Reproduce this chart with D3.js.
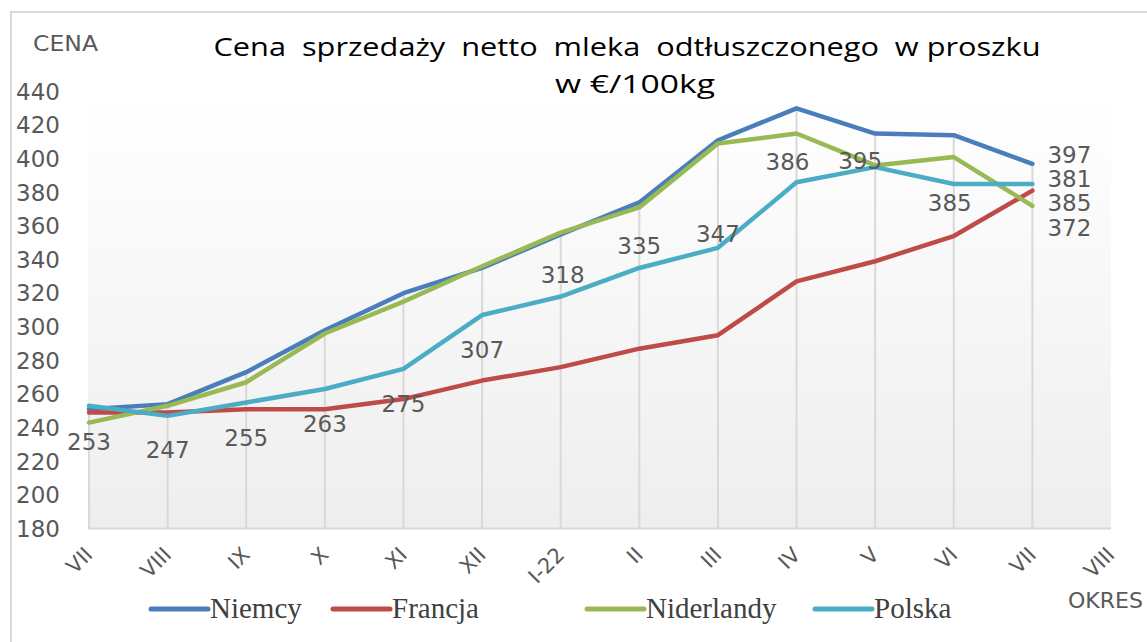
<!DOCTYPE html>
<html>
<head>
<meta charset="utf-8">
<script src="https://cdn.jsdelivr.net/npm/d3@7"></script>
<style>
  html, body { margin: 0; padding: 0; background: #fff; }
  svg { display: block; }
</style>
</head>
<body>
<svg id="chart"></svg>
<script>
// dane z wykresu
const months = ['VII', 'VIII', 'IX', 'X', 'XI', 'XII', 'I-22', 'II', 'III', 'IV', 'V', 'VI', 'VII ', 'VIII '];
const monthLabels = ['VII', 'VIII', 'IX', 'X', 'XI', 'XII', 'I-22', 'II', 'III', 'IV', 'V', 'VI', 'VII', 'VIII'];
const yTicks = [180, 200, 220, 240, 260, 280, 300, 320, 340, 360, 380, 400, 420, 440];

const niemcy     = [251, 254, 273, 298, 320, 335, 355, 374, 411, 430, 415, 414, 397];
const francja    = [249, 249, 251, 251, 257, 268, 276, 287, 295, 327, 339, 354, 381];
const niderlandy = [243, 253, 267, 296, 315, 336, 356, 371, 409, 415, 396, 401, 372];
const polska     = [253, 247, 255, 263, 275, 307, 318, 335, 347, 386, 395, 385, 385];

const seriesNames = ['Niemcy', 'Francja', 'Niderlandy', 'Polska'];
const seriesColors = ['#4a7ebb', '#be4b48', '#98b954', '#4bacc6'];

// rozmiary
const width = 1147, height = 642;
const plotLeft = 89, plotRight = 1111, plotTop = 91.5, plotBottom = 528.5;

const svg = d3.select('#chart').attr('width', width).attr('height', height);

const allSeries = [niemcy, francja, niderlandy, polska].map((values, i) => ({
    name: seriesNames[i],
    color: seriesColors[i],
    values: values
}));

const x = d3.scalePoint().domain(months).range([plotLeft, plotRight]);
const y = d3.scaleLinear().domain([180, 440]).range([plotBottom, plotTop]);

// ramka
svg.append('path')
    .attr('d', `M11,${height} L11,12 L${width},12`)
    .attr('fill', 'none')
    .attr('stroke', '#d9d9d9')
    .attr('stroke-width', 2);

// tło obszaru wykresu (gradient)
const grad = svg.append('defs').append('linearGradient')
    .attr('id', 'plotBg').attr('x1', 0).attr('y1', 0).attr('x2', 0).attr('y2', 1);
grad.append('stop').attr('offset', '0%').attr('stop-color', '#ffffff');
grad.append('stop').attr('offset', '100%').attr('stop-color', '#eeeeee');

svg.append('rect')
    .attr('x', plotLeft - 1)
    .attr('y', plotTop)
    .attr('width', plotRight - plotLeft + 1)
    .attr('height', plotBottom - plotTop)
    .attr('fill', 'url(#plotBg)');

// linie spadku od najwyższego punktu do osi
const dropData = months.slice(0, niemcy.length).map((m, i) => ({
    m: m,
    max: d3.max(allSeries, s => s.values[i])
}));
svg.append('g')
    .selectAll('line')
    .data(dropData)
    .enter().append('line')
    .attr('x1', d => x(d.m))
    .attr('x2', d => x(d.m))
    .attr('y1', d => y(d.max))
    .attr('y2', plotBottom)
    .attr('stroke', '#d9d9d9')
    .attr('stroke-width', 2);

// oś X
svg.append('line')
    .attr('x1', plotLeft - 1).attr('x2', plotRight)
    .attr('y1', plotBottom).attr('y2', plotBottom)
    .attr('stroke', '#d9d9d9')
    .attr('stroke-width', 2);

// etykiety osi Y
svg.append('g')
    .selectAll('text')
    .data(yTicks)
    .enter().append('text')
    .attr('x', 60)
    .attr('y', d => y(d))
    .attr('dy', '0.36em')
    .attr('text-anchor', 'end')
    .attr('fill', '#595959')
    .style('font-family', 'DejaVu Sans')
    .style('font-size', '23px')
    .text(d => d);

// etykiety osi X
svg.append('g')
    .selectAll('text')
    .data(months)
    .enter().append('text')
    .attr('transform', d => `translate(${x(d) + 5}, 556) rotate(-45)`)
    .attr('text-anchor', 'end')
    .attr('fill', '#595959')
    .style('font-family', 'DejaVu Sans')
    .style('font-size', '21px')
    .text((d, i) => monthLabels[i]);

// linie serii
const line = d3.line()
    .x((d, i) => x(months[i]))
    .y(d => y(d));

svg.append('g')
    .selectAll('path')
    .data(allSeries)
    .enter().append('path')
    .attr('d', d => line(d.values))
    .attr('fill', 'none')
    .attr('stroke', d => d.color)
    .attr('stroke-width', 4.5)
    .attr('stroke-linejoin', 'round')
    .attr('stroke-linecap', 'round');

// etykiety danych Polski (przesunięcia jak w oryginale)
const polskaOffsets = [[0, 36], [0, 34], [0, 35], [0, 35], [0, 35], [0, 35],
    [2, -22], [0, -22], [0, -14], [-9, -21], [-15, -6], [-4, 19]];

const labelStyle = sel => sel
    .attr('fill', '#595959')
    .style('font-family', 'DejaVu Sans')
    .style('font-size', '23px');

svg.append('g')
    .selectAll('text')
    .data(polska.slice(0, polskaOffsets.length))
    .enter().append('text')
    .attr('x', (d, i) => x(months[i]) + polskaOffsets[i][0])
    .attr('y', (d, i) => y(d) + polskaOffsets[i][1])
    .attr('dy', '0.36em')
    .attr('text-anchor', 'middle')
    .call(labelStyle)
    .text(d => d);

// etykiety końcowe wszystkich serii
const endOffsets = { Niemcy: -9, Francja: -12, Niderlandy: 22, Polska: 19 };
const last = niemcy.length - 1;
svg.append('g')
    .selectAll('text')
    .data(allSeries)
    .enter().append('text')
    .attr('x', x(months[last]) + 15)
    .attr('y', d => y(d.values[last]) + endOffsets[d.name])
    .attr('dy', '0.36em')
    .attr('text-anchor', 'start')
    .call(labelStyle)
    .text(d => d.values[last]);

// tytuł
const title = svg.append('text')
    .attr('text-anchor', 'middle')
    .attr('fill', '#000')
    .style('font-family', 'Open Sans')
    .style('font-size', '26px')
    .style('white-space', 'pre');
title.append('tspan').attr('x', 627).attr('y', 56)
    .attr('textLength', 827).attr('lengthAdjust', 'spacingAndGlyphs')
    .text('Cena  sprzedaży  netto  mleka  odtłuszczonego  w proszku');
title.append('tspan').attr('x', 635).attr('y', 93)
    .attr('textLength', 160).attr('lengthAdjust', 'spacingAndGlyphs')
    .text('w €/100kg');

// opisy osi
svg.append('text')
    .attr('x', 33).attr('y', 51)
    .attr('fill', '#595959')
    .attr('textLength', 65).attr('lengthAdjust', 'spacingAndGlyphs')
    .style('font-family', 'DejaVu Sans')
    .style('font-size', '21px')
    .text('CENA');

svg.append('text')
    .attr('x', 1068).attr('y', 608)
    .attr('fill', '#595959')
    .style('font-family', 'DejaVu Sans')
    .style('font-size', '22px')
    .text('OKRES');

// legenda
const legendX = [151, 333, 587, 815];
const legend = svg.append('g')
    .selectAll('g')
    .data(allSeries)
    .enter().append('g')
    .attr('transform', (d, i) => `translate(${legendX[i]}, 609)`);

legend.append('line')
    .attr('x1', 0).attr('x2', 57)
    .attr('y1', 0).attr('y2', 0)
    .attr('stroke', d => d.color)
    .attr('stroke-width', 5)
    .attr('stroke-linecap', 'round');

legend.append('text')
    .attr('x', 59)
    .attr('y', 9)
    .attr('fill', '#404040')
    .style('font-family', 'Liberation Serif')
    .style('font-size', '29px')
    .text(d => d.name);
</script>
</body>
</html>
